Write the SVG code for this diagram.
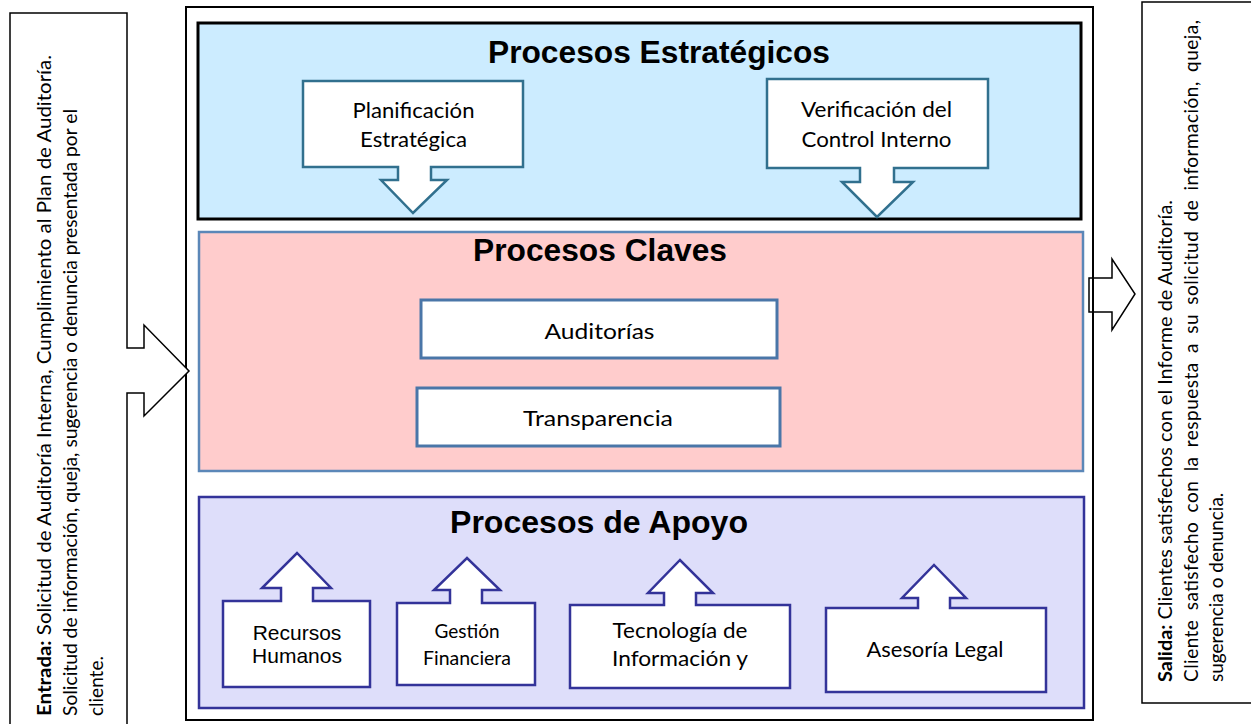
<svg xmlns="http://www.w3.org/2000/svg" width="1251" height="724" viewBox="0 0 1251 724">
<style>
.title{font-family:"Liberation Sans",Arial,sans-serif;font-weight:bold;font-size:32px;fill:#000;text-anchor:middle}
.lbl{font-family:Lato,"Open Sans",sans-serif;font-size:22px;fill:#000;text-anchor:middle}
.lbl2{font-family:Lato,"Open Sans",sans-serif;font-size:19px;fill:#000;text-anchor:middle}
.arl{font-family:"Liberation Sans",Arial,sans-serif;font-size:21px;fill:#000;text-anchor:middle}
.side{font-family:Lato,"Open Sans",sans-serif;font-size:19px;fill:#000}
.blk{fill:#fff;stroke:#000;stroke-width:1.5}
.strat{fill:#fff;stroke:#31708e;stroke-width:2.5}
.key{fill:#fff;stroke:#4a76a8;stroke-width:3}
.sup{fill:#fff;stroke:#333399;stroke-width:2.5}
</style>

<g id="frame">
<rect x="186" y="7" width="907" height="713" fill="#fff" stroke="#000" stroke-width="2"/>
</g>

<g id="entrada">
<path class="blk" d="M10,13 H127 V348 H144 V325 L189,371 L144,416 V393 H127 V732 H10 Z"/>
<text class="side" transform="translate(51,716) rotate(-90)" textLength="661" lengthAdjust="spacingAndGlyphs"><tspan font-weight="bold">Entrada:</tspan> Solicitud de Auditoría Interna, Cumplimiento al Plan de Auditoría.</text>
<text class="side" transform="translate(77,716) rotate(-90)" textLength="607" lengthAdjust="spacingAndGlyphs">Solicitud de información, queja, sugerencia o denuncia presentada por el</text>
<text class="side" transform="translate(103,716) rotate(-90)">cliente.</text>
</g>

<g id="salida">
<path class="blk" d="M1142,2 H1260 V703 H1142 Z"/>
<text class="side" transform="translate(1172,682) rotate(-90)" textLength="482" lengthAdjust="spacingAndGlyphs"><tspan font-weight="bold">Salida:</tspan> Clientes satisfechos con el Informe de Auditoría.</text>
<text class="side" transform="translate(1198,682) rotate(-90)" word-spacing="4" textLength="662" lengthAdjust="spacing">Cliente satisfecho con la respuesta a su solicitud de información, queja,</text>
<text class="side" transform="translate(1223,682) rotate(-90)">sugerencia o denuncia.</text>
</g>

<g id="estrategicos">
<rect x="198" y="23" width="883" height="196" fill="#ccecff" stroke="#000" stroke-width="3"/>
<text class="title" x="659" y="63" textLength="342" lengthAdjust="spacingAndGlyphs">Procesos Estratégicos</text>
</g>

<g id="planificacion">
<path class="strat" d="M303,81 H523 V167 H431 V180 H447 L413,213 L381,180 H398 V167 H303 Z"/>
<text class="lbl" x="413.5" y="118" textLength="122" lengthAdjust="spacingAndGlyphs">Planificación</text>
<text class="lbl" x="413.5" y="147" textLength="107" lengthAdjust="spacingAndGlyphs">Estratégica</text>
</g>

<g id="verificacion">
<path class="strat" d="M767,79 H988 V168 H894 V182 H913 L877,217 L842,182 H860 V168 H767 Z"/>
<text class="lbl" x="876.5" y="117" textLength="151" lengthAdjust="spacingAndGlyphs">Verificación del</text>
<text class="lbl" x="876.5" y="147" textLength="150" lengthAdjust="spacingAndGlyphs">Control Interno</text>
</g>

<g id="claves">
<rect x="199" y="232" width="884" height="239" fill="#ffcccc" stroke="#5b87b8" stroke-width="2.5"/>
<text class="title" x="600" y="261" textLength="254" lengthAdjust="spacingAndGlyphs">Procesos Claves</text>
</g>

<g id="auditorias">
<rect class="key" x="421" y="300" width="356" height="58"/>
<text class="lbl" x="599.5" y="339" textLength="110" lengthAdjust="spacingAndGlyphs">Auditorías</text>
</g>

<g id="transparencia">
<rect class="key" x="417" y="388" width="363" height="58"/>
<text class="lbl" x="598" y="426" textLength="150" lengthAdjust="spacingAndGlyphs">Transparencia</text>
</g>

<g id="apoyo">
<rect x="199" y="497" width="885" height="211" fill="#dedefa" stroke="#333399" stroke-width="2.5"/>
<text class="title" x="599" y="533" textLength="298" lengthAdjust="spacingAndGlyphs">Procesos de Apoyo</text>
</g>

<g id="recursos">
<path class="sup" d="M223,601 H281 V588 H262 L297,553 L331,588 H313 V601 H370 V687 H223 Z"/>
<text class="arl" x="297" y="640">Recursos</text>
<text class="arl" x="297" y="663">Humanos</text>
</g>

<g id="gestion">
<path class="sup" d="M397,603 H450 V590 H434 L467,558 L500,590 H482 V603 H535 V685 H397 Z"/>
<text class="lbl2" x="467" y="638">Gestión</text>
<text class="lbl2" x="467" y="665" textLength="88" lengthAdjust="spacingAndGlyphs">Financiera</text>
</g>

<g id="tecnologia">
<path class="sup" d="M570,605 H664 V593 H648 L680,560 L713,593 H696 V605 H790 V688 H570 Z"/>
<text class="lbl" x="680" y="638" textLength="135" lengthAdjust="spacingAndGlyphs">Tecnología de</text>
<text class="lbl" x="680" y="666" textLength="136" lengthAdjust="spacingAndGlyphs">Información y</text>
</g>

<g id="asesoria">
<path class="sup" d="M826,608 H918 V598 H902 L934,565 L966,598 H950 V608 H1046 V692 H826 Z"/>
<text class="lbl" x="935" y="657" textLength="137" lengthAdjust="spacingAndGlyphs">Asesoría Legal</text>
</g>

<g id="connectors">
<path d="M1089,278 H1112 V259 L1135,294 L1112,330 V312 H1089 Z" fill="none" stroke="#000" stroke-width="1.5"/>
</g>
</svg>
